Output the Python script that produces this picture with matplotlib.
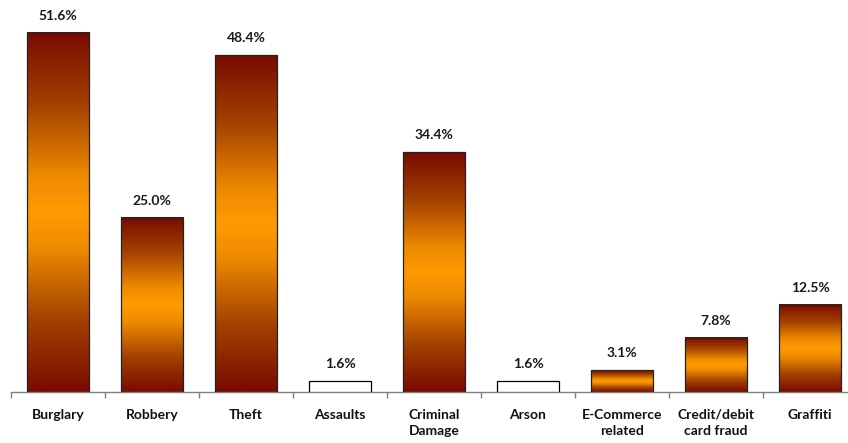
import matplotlib
matplotlib.use('Agg')
import matplotlib.pyplot as plt
import numpy as np
from matplotlib.colors import LinearSegmentedColormap

categories = ["Burglary", "Robbery", "Theft", "Assaults", "Criminal\nDamage",
              "Arson", "E-Commerce\nrelated", "Credit/debit\ncard fraud", "Graffiti"]
values = [51.6, 25.0, 48.4, 1.6, 34.4, 1.6, 3.1, 7.8, 12.5]
white_bars = ["Assaults", "Arson"]

plt.rcParams['font.family'] = ['Lato', 'DejaVu Sans']

fig = plt.figure(figsize=(8.48, 4.43), dpi=100)
# axes runs a little past the right edge, like the original
ax = fig.add_axes([11 / 848, 51 / 443, 846 / 848, 392 / 443])

cmap = LinearSegmentedColormap.from_list(
    "bar", [(0.0, "#7a0a00"), (0.2, "#a34200"), (0.4, "#ee8a00"),
            (0.5, "#ff9b00"), (0.6, "#ee8a00"), (0.8, "#a34200"), (1.0, "#7a0a00")])
grad = np.linspace(0, 1, 256).reshape(-1, 1)

x = np.arange(len(values))
width = 0.66
for xi, v, cat in zip(x, values, categories):
    if cat in white_bars:
        ax.bar(xi, v, width, color="white", edgecolor="black", linewidth=0.9, zorder=3)
    else:
        ax.imshow(grad, cmap=cmap, aspect="auto", zorder=2,
                  extent=[xi - width / 2, xi + width / 2, 0, v])
        ax.bar(xi, v, width, color="none", edgecolor="#222222", linewidth=0.9, zorder=3)
    ax.text(xi, v + 1.6, f"{v:.1f}%", ha="center", va="bottom",
            fontsize=10, fontweight="bold", color="#1a1a1a")

ax.set_xlim(-0.5, len(values) - 0.5)
ax.set_ylim(0, 56.3)

for s in ["top", "right", "left"]:
    ax.spines[s].set_visible(False)
ax.spines["bottom"].set_color("#808080")
ax.spines["bottom"].set_linewidth(1.0)
ax.set_yticks([])

ax.set_xticks(np.arange(len(values) + 1) - 0.5)
ax.set_xticklabels([])
ax.tick_params(axis="x", length=4, color="#808080", width=1)
ax.set_xticks(x, minor=True)
ax.set_xticklabels(categories, minor=True, fontsize=10, fontweight="bold",
                   color="#111111", linespacing=1.45)
ax.tick_params(axis="x", which="minor", length=0, pad=12)

fig.savefig("out.png", dpi=100)
